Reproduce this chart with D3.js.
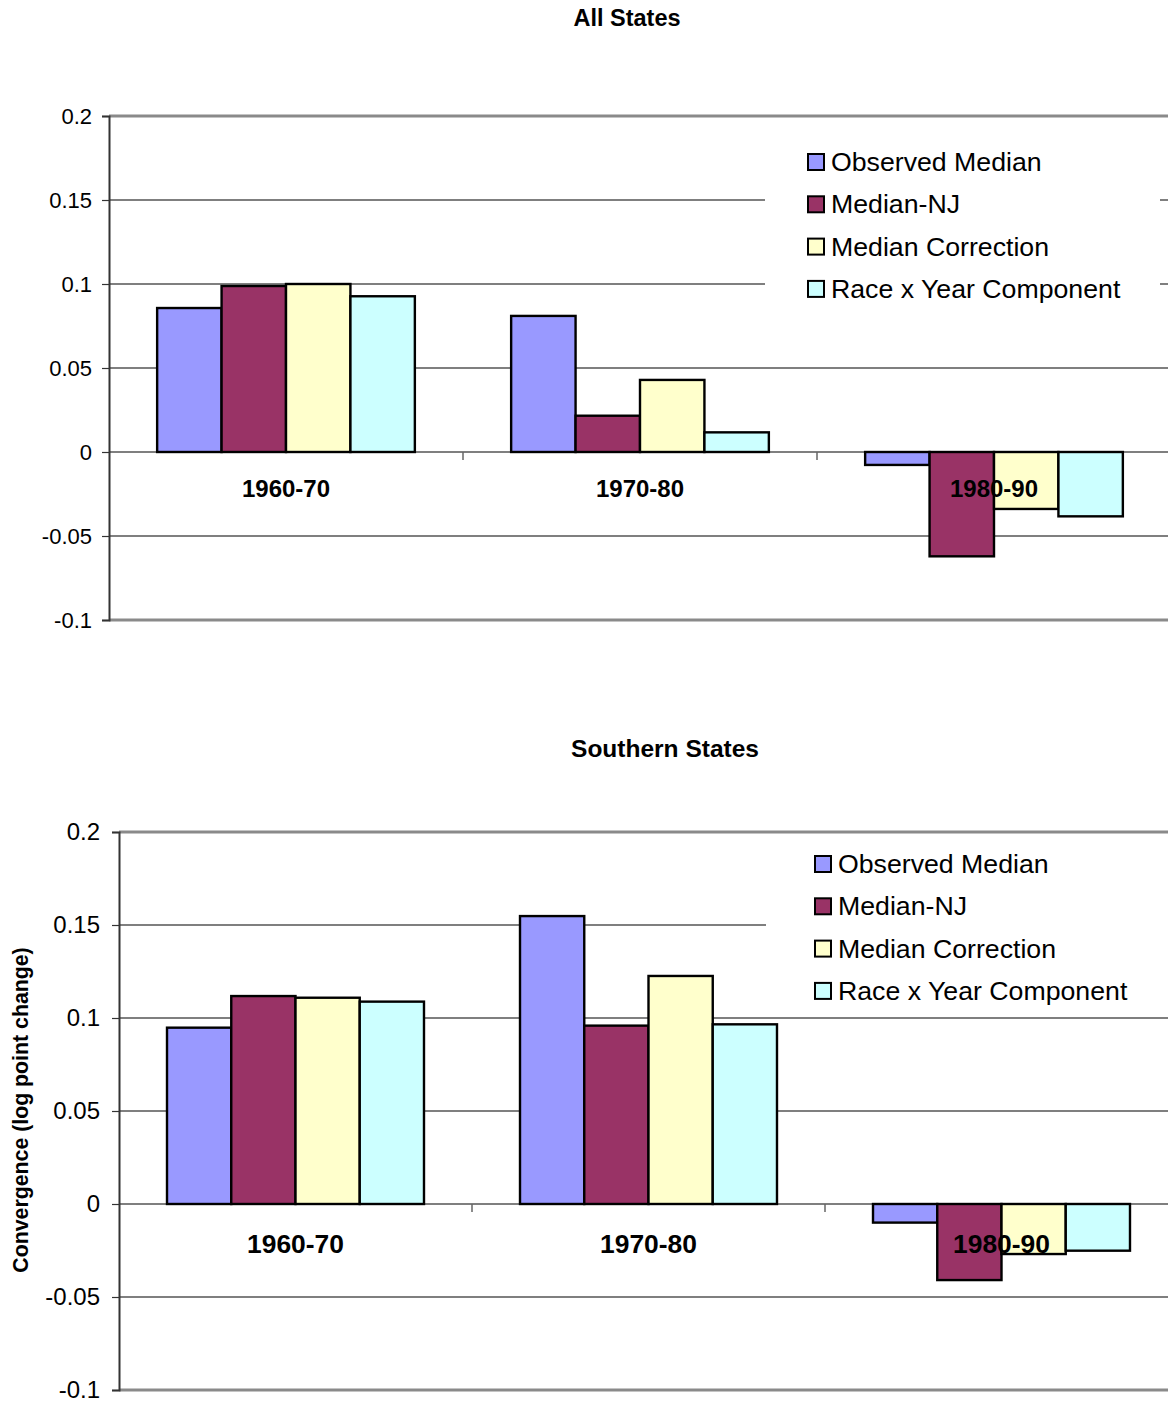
<!DOCTYPE html>
<html>
<head>
<meta charset="utf-8">
<script src="https://cdn.jsdelivr.net/npm/d3@7"></script>
<style>
  html, body { margin: 0; padding: 0; background: #fff; }
  svg { display: block; font-family: "Liberation Sans", Arial, sans-serif; }
</style>
</head>
<body>
<svg id="chart" width="1168" height="1401"></svg>
<script>
// Periods and decomposition series
const periods = ["1960-70", "1970-80", "1980-90"];
const seriesNames = ["Observed Median", "Median-NJ", "Median Correction", "Race x Year Component"];
const seriesColors = ["#9999FF", "#993366", "#FFFFCC", "#CCFFFF"];
const yTicks = [0.2, 0.15, 0.1, 0.05, 0, -0.05, -0.1];

// All States: one row per series, one value per period
const allStates = [
  [0.0857, 0.0810, -0.0077],
  [0.0988, 0.0216, -0.0621],
  [0.1000, 0.0429, -0.0339],
  [0.0927, 0.0117, -0.0383]
];

// Southern States
const southernStates = [
  [0.0948, 0.1548, -0.0100],
  [0.1118, 0.0959, -0.0409],
  [0.1109, 0.1226, -0.0269],
  [0.1088, 0.0966, -0.0251]
];

const svg = d3.select("#chart");

function drawPanel(cfg) {
  const g = svg.append("g");
  const y = d3.scaleLinear().domain([-0.1, 0.2]).range([cfg.bottom, cfg.top]);
  const x = d3.scaleBand().domain(periods).range([cfg.left, cfg.right]).padding(0);
  const gap = x.bandwidth() * 0.136;
  const xs = d3.scaleBand().domain(seriesNames).range([gap, x.bandwidth() - gap]).padding(0);

  // title
  g.append("text")
    .attr("x", cfg.titleX).attr("y", cfg.titleY)
    .attr("text-anchor", "middle")
    .attr("font-weight", "bold").attr("font-size", cfg.titleFont)
    .text(cfg.title);

  // horizontal gridlines
  g.append("g").selectAll("line")
    .data(yTicks.filter(v => v !== 0.2 && v !== -0.1))
    .join("line")
    .attr("x1", cfg.left).attr("x2", cfg.right)
    .attr("y1", d => y(d)).attr("y2", d => y(d))
    .attr("stroke", "#000").attr("stroke-width", 1.2);

  // plot-area border top and bottom
  [0.2, -0.1].forEach(v => {
    g.append("line")
      .attr("x1", cfg.left).attr("x2", cfg.right + 10)
      .attr("y1", y(v)).attr("y2", y(v))
      .attr("stroke", "#8a8a8a").attr("stroke-width", 3);
  });

  // category ticks on the zero line
  g.append("g").selectAll("line")
    .data(periods.slice(1))
    .join("line")
    .attr("x1", d => x(d)).attr("x2", d => x(d))
    .attr("y1", y(0)).attr("y2", y(0) + 8)
    .attr("stroke", "#666").attr("stroke-width", 1.5);

  // y axis
  const axis = d3.axisLeft(y)
    .tickValues(yTicks)
    .tickSize(7)
    .tickPadding(cfg.tickPad)
    .tickFormat(d => String(d));
  const ag = g.append("g")
    .attr("transform", `translate(${cfg.left},0)`)
    .call(axis);
  ag.select(".domain").attr("stroke", "#333").attr("stroke-width", 2);
  ag.selectAll(".tick line").attr("stroke", "#333").attr("stroke-width", 1.2);
  ag.selectAll(".tick text")
    .attr("font-size", cfg.tickFont)
    .attr("font-family", "Liberation Sans, Arial, sans-serif")
    .attr("fill", "#000");

  // bars
  cfg.data.forEach((vals, si) => {
    g.append("g").selectAll("rect")
      .data(vals.map((v, pi) => ({ v, p: periods[pi] })))
      .join("rect")
      .attr("x", d => x(d.p) + xs(seriesNames[si]))
      .attr("width", xs.bandwidth())
      .attr("y", d => y(Math.max(0, d.v)))
      .attr("height", d => Math.abs(y(d.v) - y(0)))
      .attr("fill", seriesColors[si])
      .attr("stroke", "#000").attr("stroke-width", 2.4);
  });

  // category labels
  g.append("g").selectAll("text")
    .data(periods)
    .join("text")
    .attr("x", d => x(d) + x.bandwidth() / 2)
    .attr("y", y(0) + cfg.catDy)
    .attr("text-anchor", "middle")
    .attr("font-weight", "bold").attr("font-size", cfg.catFont)
    .text(d => d);

  // legend
  const lg = g.append("g");
  lg.append("rect")
    .attr("x", cfg.legend.x0).attr("y", cfg.legend.y0)
    .attr("width", cfg.legend.x1 - cfg.legend.x0)
    .attr("height", cfg.legend.y1 - cfg.legend.y0)
    .attr("fill", "#fff");
  seriesNames.forEach((name, i) => {
    const by = cfg.legend.base + i * 42.3;
    lg.append("rect")
      .attr("x", cfg.legend.sx).attr("y", by - 17)
      .attr("width", 16).attr("height", 16)
      .attr("fill", seriesColors[i])
      .attr("stroke", "#000").attr("stroke-width", 2);
    lg.append("text")
      .attr("x", cfg.legend.sx + 23).attr("y", by)
      .attr("font-size", 26.7)
      .text(name);
  });

  return { x, y };
}

drawPanel({
  title: "All States", titleX: 627, titleY: 26, titleFont: 23.5,
  left: 109, right: 109 + 3 * 354, top: 116, bottom: 620,
  tickFont: 22, tickPad: 10, catFont: 24, catDy: 45,
  data: allStates,
  legend: { x0: 765, x1: 1160, y0: 128, y1: 318, sx: 808, base: 171 }
});

drawPanel({
  title: "Southern States", titleX: 665, titleY: 757, titleFont: 24.5,
  left: 119, right: 119 + 3 * 353, top: 832, bottom: 1390,
  tickFont: 24, tickPad: 12, catFont: 26.4, catDy: 49,
  data: southernStates,
  legend: { x0: 766, x1: 1175, y0: 840, y1: 1012, sx: 815, base: 873 }
});

// shared y-axis title
svg.append("text")
  .attr("transform", "translate(28,1110) rotate(-90)")
  .attr("text-anchor", "middle")
  .attr("font-weight", "bold").attr("font-size", 21.3)
  .text("Convergence (log point change)");
</script>
</body>
</html>
